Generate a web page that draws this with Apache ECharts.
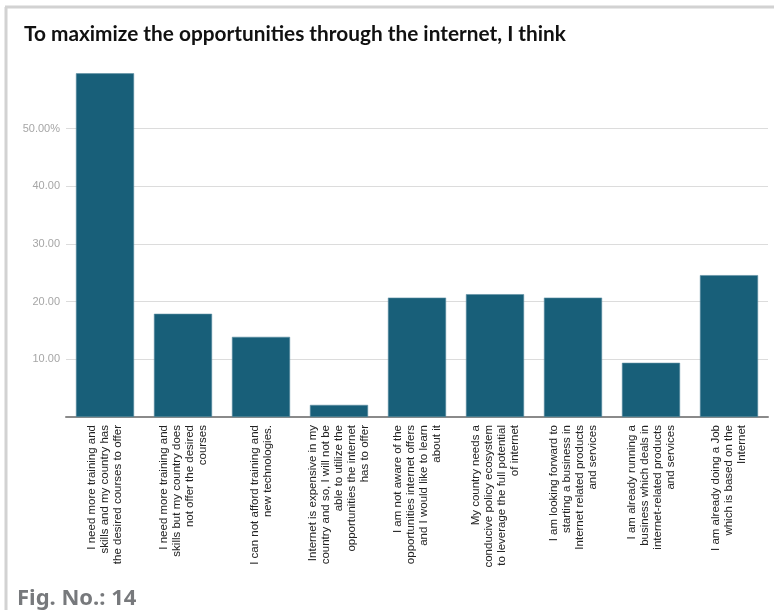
<!DOCTYPE html>
<html>
<head>
<meta charset="utf-8">
<style>
  html, body { margin: 0; padding: 0; background: #fff; }
  #chart { width: 774px; height: 610px; }
</style>
<script src="https://cdn.jsdelivr.net/npm/echarts@6/dist/echarts.min.js"></script>
</head>
<body>
<div id="chart"></div>
<script>
// Survey answers (category labels, wrapped for rotated display)
const categories = [
  "I need more training and\nskills and my country has\nthe desired courses to offer",
  "I need more training and\nskills but my country does\nnot offer the desired\ncourses",
  "I can not afford training and\nnew technologies.",
  "Internet is expensive in my\ncountry and so, I will not be\nable to utilize the\nopportunities the internet\nhas to offer",
  "I am not aware of the\nopportunities internet offers\nand I would like to learn\nabout it",
  "My country needs a\nconducive policy ecosystem\nto leverage the full potential\nof internet",
  "I am looking forward to\nstarting a business in\nInternet related products\nand services",
  "I am already running a\nbusiness which deals in\ninternet-related products\nand services",
  "I am already doing a Job\nwhich is based on the\nInternet"
];

// Share of respondents (%)
const shares = [59.6, 17.9, 13.9, 2.1, 20.7, 21.3, 20.7, 9.4, 24.6];

// Value axis ticks
const axisMin = 0;
const axisMax = 60;
const tickStep = 10;

const chartTitle = "To maximize the opportunities through the internet, I think";
const figureLabel = "Fig. No.: 14";

const chart = echarts.init(document.getElementById('chart'), null, { renderer: 'canvas' });

chart.setOption({
  animation: false,
  backgroundColor: '#ffffff',
  title: [
    {
      text: chartTitle,
      left: 24,
      top: 24,
      padding: 0,
      textStyle: {
        fontFamily: 'Lato',
        fontWeight: 700,
        fontSize: 20.8,
        color: '#111111'
      }
    },
    {
      text: figureLabel,
      left: 17,
      top: 588,
      padding: 0,
      textStyle: {
        fontFamily: 'Noto Sans',
        fontWeight: 700,
        fontSize: 22,
        color: '#77797c'
      }
    }
  ],
  graphic: [
    {
      type: 'line',
      shape: { x1: 6, y1: 7, x2: 6, y2: 610 },
      style: { stroke: '#d2d2d2', lineWidth: 3 },
      silent: true
    },
    {
      type: 'line',
      shape: { x1: 5, y1: 7, x2: 774, y2: 7 },
      style: { stroke: '#d2d2d2', lineWidth: 3 },
      silent: true
    }
  ],
  grid: {
    left: 66,
    right: 6,
    top: 71,
    bottom: 193,
    containLabel: false
  },
  xAxis: {
    type: 'category',
    data: categories,
    axisTick: { show: false },
    axisLine: { show: true, lineStyle: { color: '#8a8a8a', width: 2 } },
    axisLabel: {
      interval: 0,
      rotate: 90,
      margin: 8,
      align: 'right',
      fontFamily: 'Liberation Sans',
      fontSize: 11.5,
      lineHeight: 13,
      color: '#222222'
    }
  },
  yAxis: {
    type: 'value',
    min: axisMin,
    max: axisMax,
    interval: tickStep,
    axisLine: { show: false },
    axisTick: { show: false },
    splitLine: {
      show: true,
      showMinLine: false,
      showMaxLine: false,
      lineStyle: { color: '#dcdcdc', width: 1 }
    },
    axisLabel: {
      showMinLabel: false,
      showMaxLabel: false,
      margin: 6,
      fontFamily: 'Liberation Sans',
      fontSize: 11,
      color: '#a6a6a6',
      formatter: function (v) {
        return v === 50 ? v.toFixed(2) + '%' : v.toFixed(2);
      }
    }
  },
  series: [
    {
      type: 'bar',
      data: shares,
      barWidth: '74.5%',
      itemStyle: {
        color: '#185f79',
        borderColor: '#5d8fa3',
        borderWidth: 0.6
      }
    }
  ]
});
</script>
</body>
</html>
